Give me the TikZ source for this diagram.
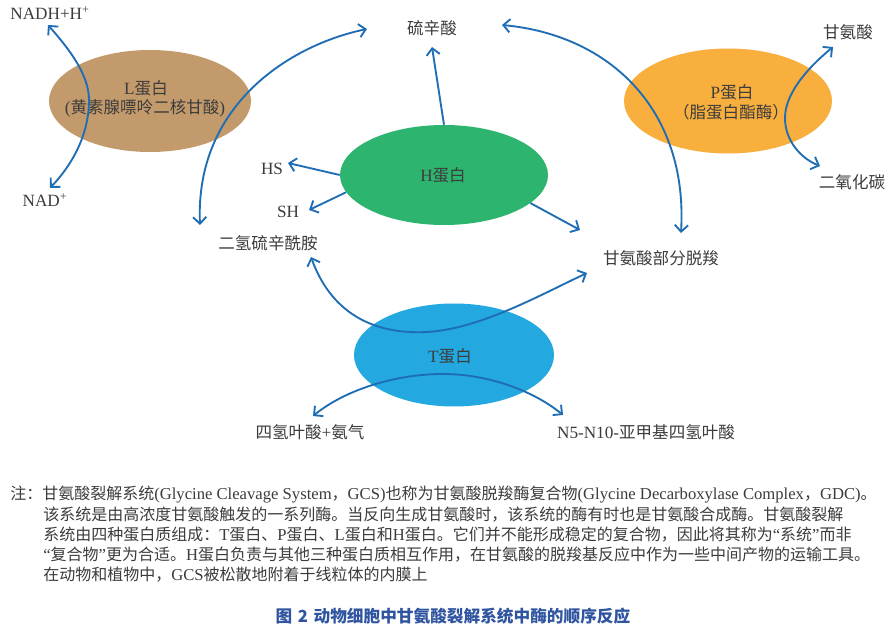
\documentclass[tikz,border=0pt]{standalone}
\usepackage{fontspec}
\setmainfont{Noto Sans CJK SC}
\newfontfamily\latfont[Scale=1.04]{Liberation Serif}
\newcommand\la[1]{{\latfont #1}}
\usetikzlibrary{arrows.meta,shapes.geometric}
\definecolor{arrowblue}{HTML}{1F6DB4}
\definecolor{Lbrown}{HTML}{C39A6B}
\definecolor{Porange}{HTML}{F9AF3E}
\definecolor{Hgreen}{HTML}{2DB570}
\definecolor{Tblue}{HTML}{24A8E0}
\definecolor{txt}{HTML}{3C3C3C}
\definecolor{capblue}{HTML}{2F54A0}
\tikzset{
  enz/.style={ellipse, draw=none, inner sep=0pt},
  lbl/.style={text=txt, font=\fontsize{12.4}{15}\selectfont, inner sep=0pt},
  notel/.style={text=txt, font=\fontsize{12}{15}\selectfont, inner sep=0pt, anchor=west},
  tip/.tip={Straight Barb[length=5pt,width=10pt]},
  dbl/.style={draw=arrowblue, line width=1.4pt, tip-tip},
  sgl/.style={draw=arrowblue, line width=1.4pt, -tip},
}
\begin{document}
\begin{tikzpicture}[x=0.75pt,y=-0.75pt]
\useasboundingbox (0,0) rectangle (894,627);
\fill[white] (0,0) rectangle (894,627);
% enzymes
\node[enz, fill=Lbrown, minimum width=202*0.75pt, minimum height=102*0.75pt] (L) at (150,101) {};
\node[enz, fill=Porange, minimum width=208*0.75pt, minimum height=105*0.75pt] (P) at (728,101) {};
\node[enz, fill=Hgreen, minimum width=208*0.75pt, minimum height=100*0.75pt] (H) at (444,175) {};
\node[enz, fill=Tblue, minimum width=200*0.75pt, minimum height=103*0.75pt] (T) at (454,355) {};
\node[lbl] (Lt1) at (146,88) {\la{L}蛋白};
\node[lbl] (Lt2) at (145,108) {\la{(}黄素腺嘌呤二核甘酸\la{)}};
\node[lbl] (Pt1) at (732,92) {\la{P}蛋白};
\node[lbl] (Pt2) at (731,112) {（脂蛋白酯酶）};
\node[lbl] (Ht) at (443,175) {\la{H}蛋白};
\node[lbl] (Tt) at (450,356) {\la{T}蛋白};
% labels
\node[lbl] (nadh) at (50,13) {\la{NADH+H\textsuperscript{+}}};
\node[lbl] (nad) at (45,200) {\la{NAD\textsuperscript{+}}};
\node[lbl] (lipo) at (432,28) {硫辛酸};
\node[lbl] (gly) at (848,32) {甘氨酸};
\node[lbl] (co2) at (852,182) {二氧化碳};
\node[lbl] (hs) at (272,169) {\la{HS}};
\node[lbl] (sh) at (288,212) {\la{SH}};
\node[lbl] (dhl) at (268,243) {二氢硫辛酰胺};
\node[lbl] (gdc) at (661,258) {甘氨酸部分脱羧};
\node[lbl] (thf) at (310,432) {四氢叶酸\la{+}氨气};
\node[lbl] (mthf) at (646,432) {\la{N5-N10-}亚甲基四氢叶酸};
% arrow end points
\coordinate (a1s) at (48,25);
\coordinate (a1e) at (50,188);
\coordinate (a2s) at (367,29);
\coordinate (a2e) at (200,225);
\coordinate (a3s) at (502,25);
\coordinate (a3e) at (681,233);
\coordinate (a4s) at (833,47);
\coordinate (a4e) at (820,166);
\coordinate (a5s) at (311,257);
\coordinate (a5e) at (587,273);
\coordinate (a6s) at (313,416);
\coordinate (a6e) at (563,415);
\coordinate (lipoh) at (432,47);
\coordinate (hsh) at (288,163);
\coordinate (shh) at (309,210);
\coordinate (gdch) at (580,230);
% curved arrows
\draw[dbl] (a1s) .. controls (70,50) and (89,75) .. (89,100) .. controls (89,135) and (72,165) .. (a1e);
\draw[dbl] (a2s) .. controls (290,45) and (195,105) .. (a2e);
\draw[dbl] (a3s) .. controls (610,35) and (688,110) .. (a3e);
\draw[dbl] (a4s) .. controls (805,70) and (785,95) .. (785,118) .. controls (785,140) and (800,158) .. (a4e);
\draw[dbl] (a5s) .. controls (330,310) and (370,335) .. (427,332) .. controls (480,329) and (540,295) .. (a5e);
\draw[dbl] (a6s) .. controls (345,390) and (395,374) .. (443,374) .. controls (490,374) and (535,392) .. (a6e);
% straight arrows
\draw[sgl] (H.north) -- (lipoh);
\draw[sgl] (H.west) -- (hsh);
\draw[sgl] (H.190) -- (shh);
\draw[sgl] (H.-18) -- (gdch);
% note
\node[notel] (n1) at (10,495) {注：甘氨酸裂解系统\la{(Glycine Cleavage System}，\la{GCS)}也称为甘氨酸脱羧酶复合物\la{(Glycine Decarboxylase Complex}，\la{GDC)}。};
\node[notel] (n2) at (43,515) {该系统是由高浓度甘氨酸触发的一系列酶。当反向生成甘氨酸时，该系统的酶有时也是甘氨酸合成酶。甘氨酸裂解};
\node[notel] (n3) at (43,535) {系统由四种蛋白质组成：\la{T}蛋白、\la{P}蛋白、\la{L}蛋白和\la{H}蛋白。它们并不能形成稳定的复合物，因此将其称为\la{“}系统\la{”}而非};
\node[notel] (n4) at (43,555) {\la{“}复合物\la{”}更为合适。\la{H}蛋白负责与其他三种蛋白质相互作用，在甘氨酸的脱羧基反应中作为一些中间产物的运输工具。};
\node[notel] (n5) at (43,575) {在动物和植物中，\la{GCS}被松散地附着于线粒体的内膜上};
\node[text=capblue, font=\fontsize{12.5}{14}\bfseries, inner sep=0pt] (cap) at (453,616) {图\,\,2\,\,动物细胞中甘氨酸裂解系统中酶的顺序反应};
\end{tikzpicture}
\end{document}
